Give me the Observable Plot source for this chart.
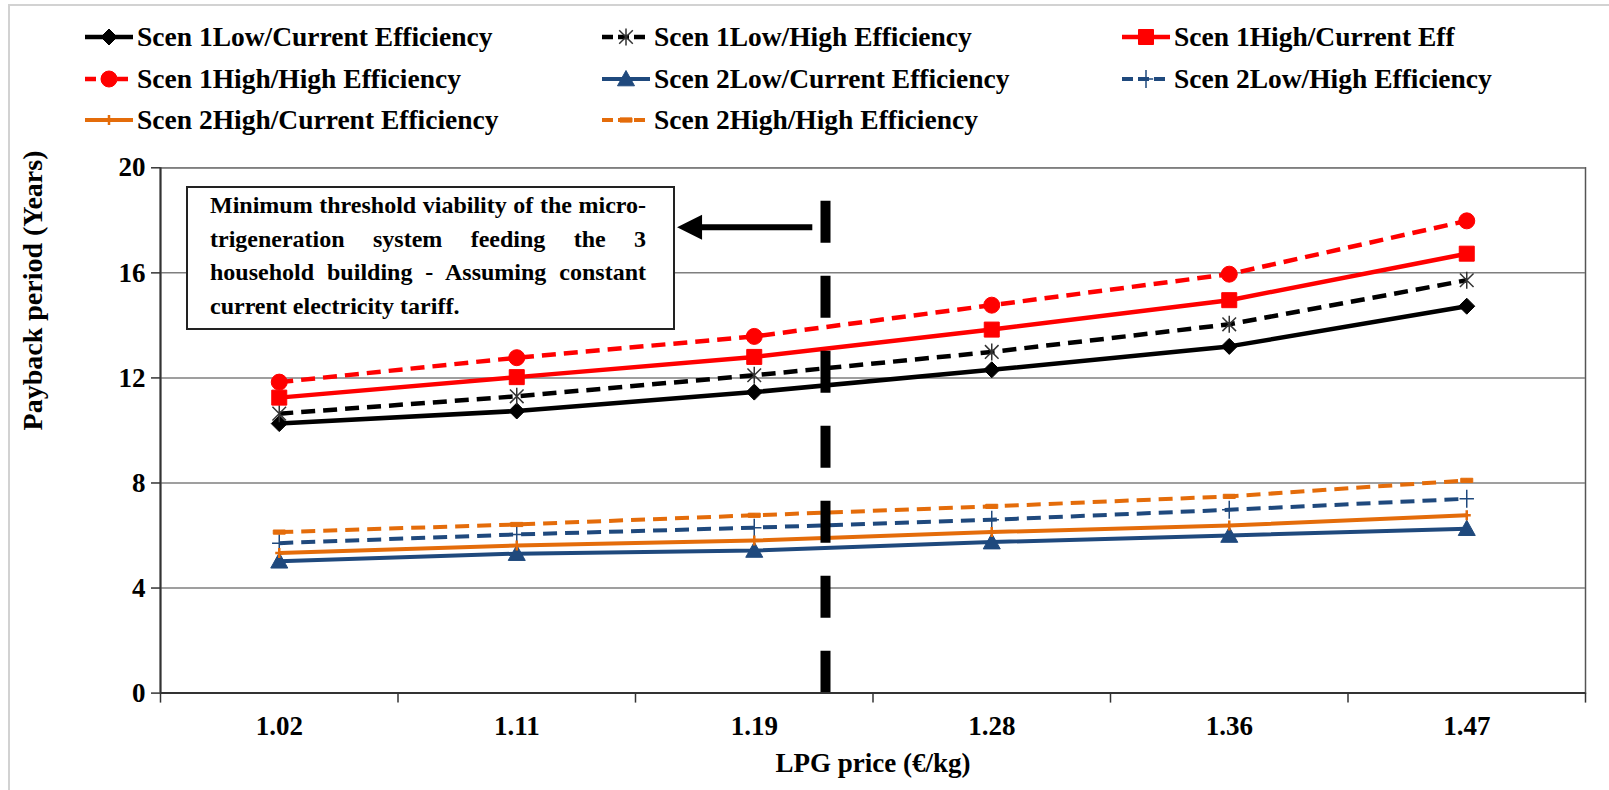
<!DOCTYPE html>
<html>
<head>
<meta charset="utf-8">
<script src="https://cdn.jsdelivr.net/npm/d3@7"></script>
<script src="https://cdn.jsdelivr.net/npm/@observablehq/plot@0.6"></script>
<style>
html, body { margin: 0; padding: 0; background: #fff; overflow: hidden; width: 1609px; height: 790px; }
#wrap { position: relative; width: 1609px; height: 790px; font-family: "Liberation Serif", "Times New Roman", serif; font-weight: bold; color: #000; }
#border { position: absolute; left: 8px; top: 4px; width: 1700px; height: 900px; border: 2px solid #d2d2d2; pointer-events: none; }
#legend { position: absolute; left: 0; top: 0; width: 1609px; height: 150px; }
.item { position: absolute; height: 30px; display: flex; align-items: center; font-size: 27.5px; white-space: nowrap; }
.item svg { margin-right: 4px; flex: none; }
#chart { position: absolute; left: 0; top: 150px; }
#note { position: absolute; left: 186px; top: 186px; width: 489px; height: 144px; box-sizing: border-box; border: 2px solid #222; background: #fff; padding: 1px 27px 0 22px; font-size: 24px; line-height: 33.5px; }
#note div { text-align: justify; text-align-last: justify; white-space: nowrap; }
#note div.last { text-align-last: left; }
</style>
</head>
<body>
<div id="wrap">
  <div id="legend"></div>
  <div id="chart"></div>
  <div id="note"></div>
  <div id="border"></div>
</div>
<script>
// ---------------- data ----------------
const categories = ["1.02", "1.11", "1.19", "1.28", "1.36", "1.47"];
const seriesNames = [
  "Scen 1Low/Current Efficiency",
  "Scen 1Low/High Efficiency",
  "Scen 1High/Current Eff",
  "Scen 1High/High Efficiency",
  "Scen 2Low/Current Efficiency",
  "Scen 2Low/High Efficiency",
  "Scen 2High/Current Efficiency",
  "Scen 2High/High Efficiency"
];
const scen1LowCurrent  = [10.26, 10.74, 11.46, 12.31, 13.20, 14.73];
const scen1LowHigh     = [10.64, 11.30, 12.10, 12.99, 14.04, 15.72];
const scen1HighCurrent = [11.25, 12.03, 12.80, 13.84, 14.96, 16.73];
const scen1HighHigh    = [11.84, 12.77, 13.58, 14.77, 15.95, 17.98];
const scen2LowCurrent  = [5.02, 5.31, 5.43, 5.75, 6.00, 6.26];
const scen2LowHigh     = [5.71, 6.04, 6.30, 6.60, 6.98, 7.40];
const scen2HighCurrent = [5.33, 5.62, 5.81, 6.13, 6.38, 6.77];
const scen2HighHigh    = [6.13, 6.42, 6.77, 7.11, 7.49, 8.10];
const seriesValues = [scen1LowCurrent, scen1LowHigh, scen1HighCurrent, scen1HighHigh,
                      scen2LowCurrent, scen2LowHigh, scen2HighCurrent, scen2HighHigh];
const yTicks = [0, 4, 8, 12, 16, 20];
const xTitle = "LPG price (€/kg)";
const yTitle = "Payback period (Years)";
const noteLines = [
  "Minimum threshold viability of the micro-",
  "trigeneration system feeding the 3",
  "household building - Assuming constant",
  "current electricity tariff."
];
// annotation: threshold LPG price (€/kg) and arrow pointing left
const thresholdPrice = 1.217;
const thresholdTop = 18.73;
const arrowTipPrice = 1.164;
const arrowTailPrice = 1.212;
const arrowLevel = 17.74;

// ---------------- styles ----------------
function rad(s) { return Math.sqrt(s / Math.PI); }
const symbols = {
  diamond: { draw(c, s) { const r = rad(s); c.moveTo(0, -r); c.lineTo(r, 0); c.lineTo(0, r); c.lineTo(-r, 0); c.closePath(); } },
  square: { draw(c, s) { const r = rad(s); c.rect(-r, -r, 2 * r, 2 * r); } },
  circle: { draw(c, s) { const r = rad(s); c.moveTo(r, 0); c.arc(0, 0, r, 0, 2 * Math.PI); c.closePath(); } },
  triangle: { draw(c, s) { const r = rad(s); c.moveTo(0, -r); c.lineTo(r, r * 0.8); c.lineTo(-r, r * 0.8); c.closePath(); } },
  asterisk: { draw(c, s) { const r = rad(s), a = r * 0.8; c.moveTo(0, -r); c.lineTo(0, r); c.moveTo(-a, -a); c.lineTo(a, a); c.moveTo(a, -a); c.lineTo(-a, a); } },
  plus: { draw(c, s) { const r = rad(s); c.moveTo(0, -r); c.lineTo(0, r); c.moveTo(-r * 0.8, 0); c.lineTo(r * 0.8, 0); } },
  dash: { draw(c, s) { const r = rad(s); c.rect(-r, -r * 0.35, 2 * r, r * 0.7); } },
  arrowHead: { draw(c, s) { const r = rad(s); c.moveTo(0, 0); c.lineTo(2 * r, -r); c.lineTo(2 * r, r); c.closePath(); } }
};
const styles = [
  { color: "#000000", dash: null,   marker: "diamond",  r: 8,   w: 4.5, filled: true },
  { color: "#000000", dash: "14,8", marker: "asterisk", r: 8.5, w: 4.5, filled: false, mstroke: "#333333", mw: 1.5 },
  { color: "#ff0000", dash: null,   marker: "square",   r: 7.5, w: 4.5, filled: true },
  { color: "#ff0000", dash: "14,8", marker: "circle",   r: 8,   w: 4.5, filled: true },
  { color: "#1f497d", dash: null,   marker: "triangle", r: 8.5, w: 4,   filled: true },
  { color: "#1f497d", dash: "14,8", marker: "plus",     r: 9,   w: 4,   filled: false, mw: 1.5 },
  { color: "#e46c0a", dash: null,   marker: "plus",     r: 5,   w: 4,   filled: false, mw: 2.5 },
  { color: "#e46c0a", dash: "14,8", marker: "dash",     r: 6,   w: 4,   filled: true }
];

// ---------------- helpers ----------------
const catValues = categories.map(Number);
function priceToPos(p) {
  for (let i = 0; i < catValues.length - 1; i++) {
    if (p >= catValues[i] && p <= catValues[i + 1]) return i + 0.5 + (p - catValues[i]) / (catValues[i + 1] - catValues[i]);
  }
  return 0;
}
const rows = seriesNames.flatMap((name, s) => seriesValues[s].map((v, i) => ({ s, name, x: i + 0.5, y: v })));

// ---------------- plot ----------------
const marks = [
  Plot.frame({ stroke: "#555", strokeWidth: 1.5 }),
  Plot.ruleY(yTicks.filter(d => d > 0), { stroke: "#7f7f7f", strokeWidth: 1.5 })
];
styles.forEach((st, s) => {
  const d = rows.filter(r => r.s === s);
  marks.push(Plot.line(d, { x: "x", y: "y", stroke: st.color, strokeWidth: st.w,
    strokeDasharray: st.dash || undefined, strokeLinecap: "butt", strokeLinejoin: "round" }));
});
styles.forEach((st, s) => {
  const d = rows.filter(r => r.s === s);
  marks.push(Plot.dot(d, { x: "x", y: "y", symbol: symbols[st.marker], r: st.r,
    fill: st.filled ? st.color : "none",
    stroke: st.mstroke || st.color, strokeWidth: st.filled ? 1 : st.mw }));
});
const thrPos = priceToPos(thresholdPrice);
marks.push(
  Plot.ruleX([thrPos], { y1: thresholdTop, y2: 0, stroke: "#000", strokeWidth: 10, strokeDasharray: "42,33", strokeLinecap: "butt" }),
  Plot.link([0], { x1: priceToPos(arrowTailPrice), x2: priceToPos(arrowTipPrice) + 0.05, y1: arrowLevel, y2: arrowLevel, stroke: "#000", strokeWidth: 6 }),
  Plot.dot([0], { x: priceToPos(arrowTipPrice), y: arrowLevel, symbol: symbols.arrowHead, r: 12.5, fill: "#000", stroke: "none" }),
  Plot.ruleY([0], { stroke: "#333", strokeWidth: 2 }),
  Plot.ruleX([0], { stroke: "#333", strokeWidth: 2 }),
  Plot.axisY({ ticks: yTicks, tickSize: 9, tickPadding: 6, tickFormat: d => String(d), label: null, stroke: "#333", strokeWidth: 1.5 }),
  Plot.axisX({ ticks: d3.range(0, categories.length + 1), tickSize: 10, tickFormat: () => "", label: null, stroke: "#333", strokeWidth: 1.5 }),
  Plot.axisX({ ticks: categories.map((c, i) => i + 0.5), tickSize: 0, tickPadding: 23, tickFormat: d => categories[Math.floor(d)], label: null }),
  Plot.text([yTitle], { text: d => d, frameAnchor: "left", rotate: -90, dx: -127, fontSize: 28 }),
  Plot.text([xTitle], { text: d => d, frameAnchor: "bottom", dy: 79, fontSize: 27 })
);

const chart = Plot.plot({
  width: 1609,
  height: 640,
  marginTop: 17.3,
  marginBottom: 97.4,
  marginLeft: 160,
  marginRight: 24,
  x: { type: "linear", domain: [0, categories.length], axis: null },
  y: { type: "linear", domain: [0, 20], axis: null },
  style: { fontFamily: "Liberation Serif, Times New Roman, serif", fontSize: "27px", fontWeight: "bold", color: "#000", background: "transparent", overflow: "visible" },
  marks
});
document.getElementById("chart").appendChild(chart);

// ---------------- legend ----------------
const legendCols = [137, 654, 1174];
const legendRows = [37, 79, 120];
const legend = document.getElementById("legend");
seriesNames.forEach((name, s) => {
  const st = styles[s];
  const col = s % 3, row = Math.floor(s / 3);
  const path = d3.symbol().type(symbols[st.marker]).size(Math.PI * st.r * st.r)();
  const item = document.createElement("div");
  item.className = "item";
  item.style.left = (legendCols[col] - 52) + "px";
  item.style.top = (legendRows[row] - 15) + "px";
  item.innerHTML =
    `<svg width="48" height="30" viewBox="0 0 48 30">` +
    `<line x1="0" x2="48" y1="15" y2="15" stroke="${st.color}" stroke-width="${st.w}" ${st.dash ? 'stroke-dasharray="11,5"' : ""}/>` +
    `<path transform="translate(24,15)" d="${path}" fill="${st.filled ? st.color : "none"}" stroke="${st.mstroke || st.color}" stroke-width="${st.filled ? 1 : st.mw}"/>` +
    `</svg><span>${name}</span>`;
  legend.appendChild(item);
});

// ---------------- annotation box ----------------
const note = document.getElementById("note");
noteLines.forEach((t, i) => {
  const d = document.createElement("div");
  d.textContent = t;
  if (i === noteLines.length - 1) d.className = "last";
  note.appendChild(d);
});
</script>
</body>
</html>
